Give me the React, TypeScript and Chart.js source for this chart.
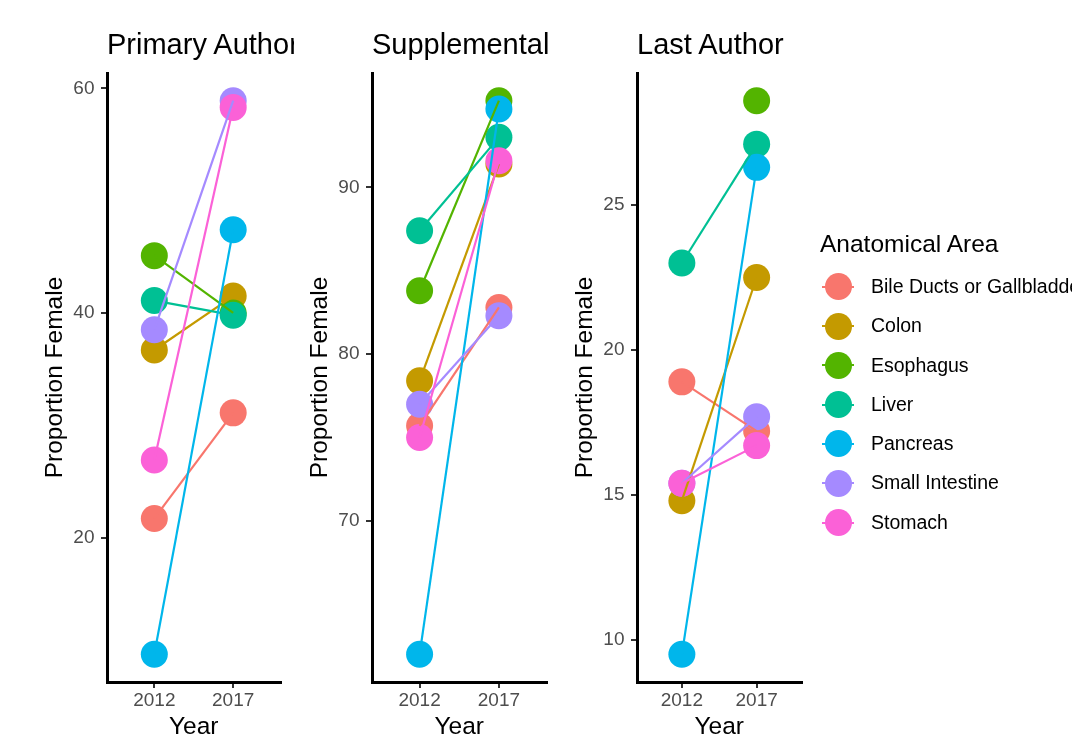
import React, { useEffect, useRef } from 'react';
import { Chart, registerables } from 'chart.js';

Chart.register(...registerables);

const FONT = '"Liberation Sans", Arial, Helvetica, sans-serif';

// ---- data ----
const years = [2012, 2017];
const areas = [
  'Bile Ducts or Gallbladder',
  'Colon',
  'Esophagus',
  'Liver',
  'Pancreas',
  'Small Intestine',
  'Stomach',
];
const areaColors = ['#F8766D', '#C49A00', '#53B400', '#00C094', '#00B6EB', '#A58AFF', '#FB61D7'];

const primary2012 = [21.7, 36.7, 45.1, 41.1, 9.6, 38.5, 26.9];
const primary2017 = [31.1, 41.5, 40.0, 39.8, 47.4, 58.9, 58.3];
const supplemental2012 = [75.7, 78.4, 83.8, 87.4, 62.0, 77.0, 75.0];
const supplemental2017 = [82.8, 91.4, 95.2, 93.0, 94.7, 82.3, 91.6];
const last2012 = [18.9, 14.8, null, 23.0, 9.5, 15.4, 15.4];
const last2017 = [17.2, 22.5, 28.6, 27.1, 26.3, 17.7, 16.7];

const primaryTicks = [20, 40, 60];
const supplementalTicks = [70, 80, 90];
const lastTicks = [10, 15, 20, 25];

const panelTitles = ['Primary Author', 'Supplemental', 'Last Author'];
const legendTitle = 'Anatomical Area';
const xTitle = 'Year';
const yTitle = 'Proportion Female';

type PanelCfg = {
  title: string;
  v12: (number | null)[];
  v17: (number | null)[];
  ticks: number[];
  left: number;
  width: number;
  axisX: number;
  rightPad: number;
  yTitlePad: number;
};

const panels: PanelCfg[] = [
  { title: panelTitles[0], v12: primary2012, v17: primary2017, ticks: primaryTicks, left: 0, width: 294, axisX: 107, rightPad: 11, yTitlePad: 42.5 },
  { title: panelTitles[1], v12: supplemental2012, v17: supplemental2017, ticks: supplementalTicks, left: 294, width: 266, axisX: 78, rightPad: 12, yTitlePad: 13.5 },
  { title: panelTitles[2], v12: last2012, v17: last2017, ticks: lastTicks, left: 560, width: 255, axisX: 77, rightPad: 3, yTitlePad: 12.5 },
];

function buildConfig(p: PanelCfg): any {
  const all = [...p.v12, ...p.v17].filter((v) => v !== null) as number[];
  const lo = Math.min(...all);
  const hi = Math.max(...all);
  const ex = (hi - lo) * 0.05;
  const seriesData = (i: number) => years.map((yr, j) => ({ x: yr, y: (j === 0 ? p.v12 : p.v17)[i] }));

  const pointSets = areas.map((name, i) => ({
    label: name,
    data: seriesData(i),
    showLine: false,
    pointRadius: 13.5,
    pointHoverRadius: 13.5,
    pointBackgroundColor: areaColors[i],
    pointBorderWidth: 0,
    backgroundColor: areaColors[i],
    borderColor: areaColors[i],
    order: 100 - i,
    clip: false,
  }));
  const lineSets = areas.map((name, i) => ({
    label: name + ' line',
    data: seriesData(i),
    showLine: true,
    borderColor: areaColors[i],
    backgroundColor: areaColors[i],
    borderWidth: 2.2,
    pointRadius: 0,
    pointHoverRadius: 0,
    spanGaps: false,
    order: 50 - i,
    clip: false,
  }));

  const tickFont = { family: FONT, size: 19, lineHeight: 1.2 };
  const titleFont = { family: FONT, size: 24.5, lineHeight: 1 };
  const grid = { display: true, drawOnChartArea: false, drawTicks: true, tickLength: 6, color: '#333333', lineWidth: 2 };
  const border = { display: true, color: '#000000', width: 3 };

  return {
    type: 'line',
    data: { datasets: [...lineSets, ...pointSets] },
    options: {
      responsive: false,
      animation: false,
      devicePixelRatio: 1,
      events: [],
      layout: { padding: { left: 0, right: p.rightPad, top: 73, bottom: 0 } },
      plugins: { legend: { display: false }, tooltip: { enabled: false }, title: { display: false } },
      scales: {
        x: {
          type: 'linear',
          min: 2009,
          max: 2020,
          afterBuildTicks: (s: any) => {
            s.ticks = years.map((v) => ({ value: v }));
          },
          afterFit: (s: any) => {
            s.height = 60;
          },
          ticks: { callback: (v: any) => String(v), font: tickFont, color: '#4D4D4D', padding: 1.8, maxRotation: 0, autoSkip: false },
          grid,
          border,
          title: { display: true, text: xTitle, font: titleFont, color: '#000000', padding: { top: 0, bottom: 2.2 } },
        },
        y: {
          type: 'linear',
          min: lo - ex,
          max: hi + ex,
          afterBuildTicks: (s: any) => {
            s.ticks = p.ticks.map((v) => ({ value: v }));
          },
          afterFit: (s: any) => {
            s.width = p.axisX;
          },
          ticks: { callback: (v: any) => String(v), font: tickFont, color: '#4D4D4D', padding: 6.5, autoSkip: false },
          grid,
          border,
          title: { display: true, text: yTitle, font: titleFont, color: '#000000', padding: { top: p.yTitlePad, bottom: 0 } },
        },
      },
    },
  };
}

function Panel({ cfg }: { cfg: PanelCfg }) {
  const ref = useRef<HTMLCanvasElement>(null);
  useEffect(() => {
    const chart = new Chart(ref.current as HTMLCanvasElement, buildConfig(cfg));
    return () => chart.destroy();
  }, [cfg]);
  return (
    <div style={{ position: 'absolute', left: cfg.left, top: 0, width: cfg.width, height: 742, overflow: 'hidden' }}>
      <canvas ref={ref} width={cfg.width} height={742} style={{ display: 'block', width: cfg.width, height: 742 }} />
      <div
        style={{
          position: 'absolute',
          left: cfg.axisX,
          top: 29.75,
          fontFamily: FONT,
          fontSize: 29,
          lineHeight: '29px',
          whiteSpace: 'nowrap',
          color: '#000',
        }}
      >
        {cfg.title}
      </div>
    </div>
  );
}

function Legend() {
  return (
    <div style={{ position: 'absolute', left: 0, top: 0, width: 1072, height: 742, pointerEvents: 'none' }}>
      <div
        style={{ position: 'absolute', left: 820, top: 232.3, fontFamily: FONT, fontSize: 24.5, lineHeight: '24.5px', whiteSpace: 'nowrap', color: '#000' }}
      >
        {legendTitle}
      </div>
      {areas.map((name, i) => {
        const cy = 286.7 + i * 39.3;
        return (
          <React.Fragment key={name}>
            <div style={{ position: 'absolute', left: 822, top: cy - 1, width: 32, height: 2, background: areaColors[i] }} />
            <div
              style={{
                position: 'absolute',
                left: 838 - 13.5,
                top: cy - 13.5,
                width: 27,
                height: 27,
                borderRadius: '50%',
                background: areaColors[i],
              }}
            />
            <div
              style={{
                position: 'absolute',
                left: 871,
                top: cy + 6.7 - 16.5,
                fontFamily: FONT,
                fontSize: 19.5,
                lineHeight: '19.5px',
                whiteSpace: 'nowrap',
                color: '#000',
              }}
            >
              {name}
            </div>
          </React.Fragment>
        );
      })}
    </div>
  );
}

export default function App() {
  return (
    <div style={{ position: 'fixed', left: 0, top: 0, width: 1072, height: 742, overflow: 'hidden', background: '#ffffff' }}>
      {panels.map((p) => (
        <Panel key={p.title} cfg={p} />
      ))}
      <Legend />
    </div>
  );
}
